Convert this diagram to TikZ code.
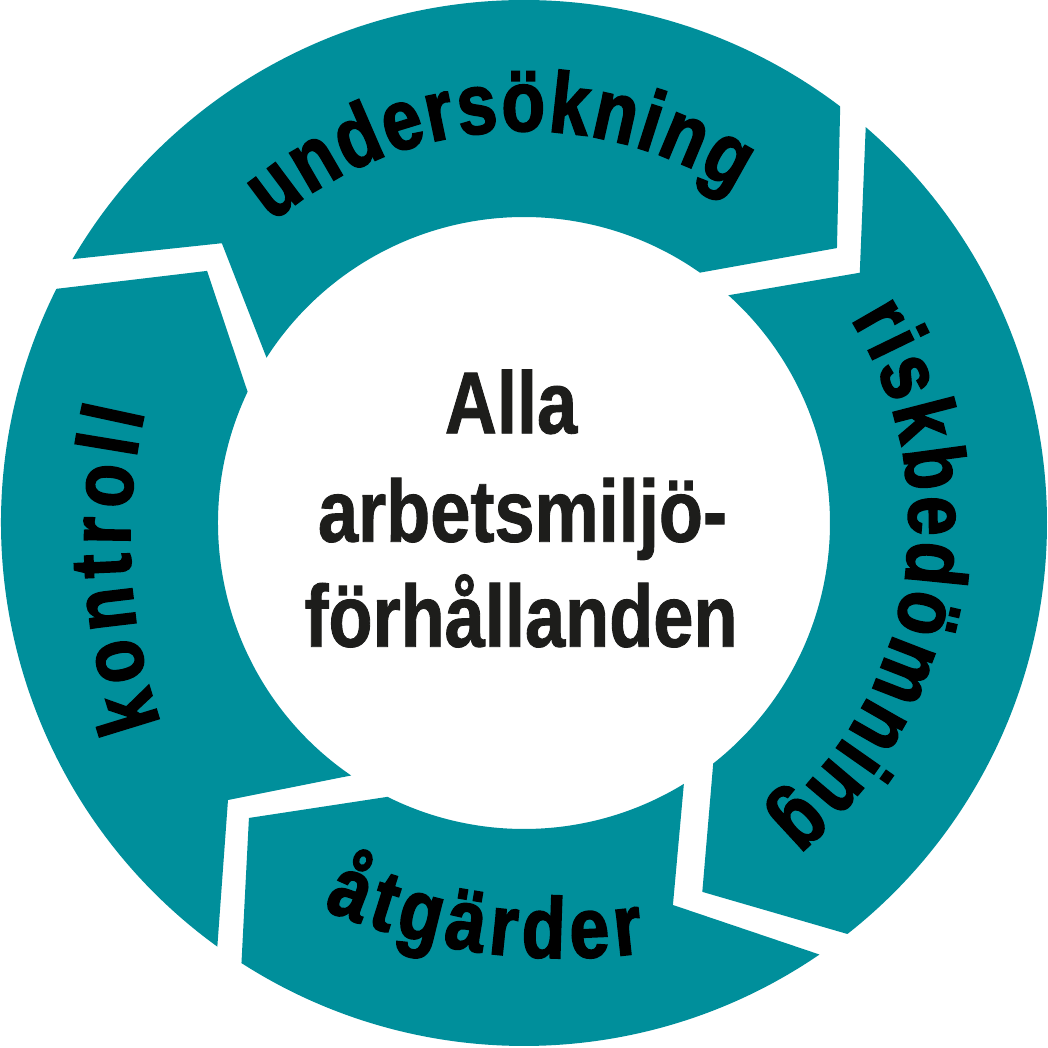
\documentclass[tikz,border=0pt]{standalone}
\usepackage{fontspec}
\setmainfont{Liberation Sans}
\newfontfamily\ringfam[FakeStretch=0.83, BoldFeatures={FakeBold=2}]{Liberation Sans}
\newfontfamily\hubfam[FakeStretch=0.82, BoldFeatures={FakeBold=1}]{Liberation Sans}
\usetikzlibrary{decorations.text}
\definecolor{ringteal}{RGB}{0,143,155}
\definecolor{inktext}{RGB}{29,29,27}
\newcommand{\ringfnt}{\ringfam\bfseries\fontsize{86}{90}\selectfont}
\newcommand{\hubfnt}{\hubfam\bfseries\fontsize{88}{107}\selectfont}
\begin{document}
\begin{tikzpicture}[
  segment/.style={fill=ringteal},
  ringlabel/.style={decorate, decoration={text along path, text align={fit to path}}},
  hubline/.style={font=\hubfnt, text=inktext, anchor=base, inner sep=0pt},
]
\useasboundingbox (-524pt,-524pt) rectangle (524pt,523pt);
% undersokning
\fill[segment] (149.7:523pt) arc[start angle=149.7, end angle=52.8, radius=523pt]
  -- (41.3:416.6pt) -- (54.9:306pt) arc[start angle=54.9, end angle=147.3, radius=306pt]
  -- (137.2:411.8pt) -- cycle;
% riskbedomning
\fill[segment] (49.2:523pt) arc[start angle=49.2, end angle=-51.8, radius=523pt]
  -- (-64.2:409.7pt) -- (-51.8:306pt) arc[start angle=-51.8, end angle=48.1, radius=306pt]
  -- (36.7:418.8pt) -- cycle;
% atgarder
\fill[segment] (-55.6:523pt) arc[start angle=-55.6, end angle=-122.7, radius=523pt]
  -- (-133:403.3pt) -- (-116.5:306pt) arc[start angle=-116.5, end angle=-58.5, radius=306pt]
  -- (-68.7:410pt) -- cycle;
% kontroll
\fill[segment] (-125.9:523pt) arc[start angle=-125.9, end angle=-206.6, radius=523pt]
  -- (-218.5:405pt) -- (-205.4:306pt) arc[start angle=-205.4, end angle=-124.4, radius=306pt]
  -- (-136.9:405.4pt) -- cycle;

% ring labels
\path[ringlabel, decoration={text={|\ringfnt|undersökning}}]
  (130:392pt) arc[start angle=130, end angle=57.5, radius=392pt];
\path[ringlabel, decoration={text={|\ringfnt|riskbedömning}}]
  (32:385pt) arc[start angle=32, end angle=-50.5, radius=385pt];
\path[ringlabel, decoration={text={|\ringfnt|kontroll}}]
  ([shift={(166pt,-17pt)}]199.1:560pt) arc[start angle=199.1, end angle=166.8, radius=560pt];
\path[ringlabel, decoration={text={|\ringfnt|åtgärder}}]
  ([shift={(40pt,184pt)}]-112.9:619pt) arc[start angle=-112.9, end angle=-82.6, radius=619pt];

% hub text
\node[hubline] (hub1) at (-13pt,89.7pt) {Alla};
\node[hubline] (hub2) at (-1.5pt,-18.7pt) {arbetsmiljö-};
\node[hubline] (hub3) at (-3pt,-123.7pt) {förhållanden};
\end{tikzpicture}
\end{document}
